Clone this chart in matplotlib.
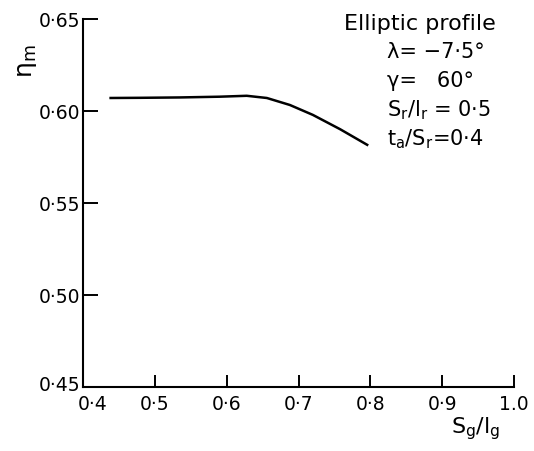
import matplotlib
matplotlib.use("Agg")
import matplotlib.pyplot as plt
import matplotlib.transforms as mtransforms

# data
sg_lg = [0.437, 0.480, 0.535, 0.590, 0.628, 0.656, 0.688, 0.720, 0.758, 0.797]
eta_m = [0.607, 0.6071, 0.6073, 0.6077, 0.6082, 0.607, 0.6032, 0.5978, 0.590, 0.5812]
x_ticks = [0.4, 0.5, 0.6, 0.7, 0.8, 0.9, 1.0]
x_tick_labels = ["0·4", "0·5", "0·6", "0·7", "0·8", "0·9", "1.0"]
y_ticks = [0.45, 0.50, 0.55, 0.60, 0.65]
y_tick_labels = ["0·45", "0·50", "0·55", "0·60", "0·65"]

fig = plt.figure(figsize=(5.34, 4.52), dpi=100)
ax = fig.add_axes([0.155, 0.142, 0.808, 0.814])

ax.plot(sg_lg, eta_m, color="black", lw=1.8, solid_capstyle="butt")

ax.set_xlim(0.4, 1.0)
ax.set_ylim(0.45, 0.65)
ax.spines["top"].set_visible(False)
ax.spines["right"].set_visible(False)
for s in ("left", "bottom"):
    ax.spines[s].set_linewidth(1.5)

ax.set_xticks(x_ticks)
ax.set_xticklabels(x_tick_labels, fontsize=13.5)
ax.set_yticks(y_ticks)
ax.set_yticklabels(y_tick_labels, fontsize=13.5)
ax.tick_params(axis="x", direction="in", length=9, width=1.4, pad=5)
ax.tick_params(axis="y", direction="in", length=11, width=1.4, pad=2)

# lift the lowest y label and shift the first x label so they clear each other
ylbl = ax.get_yticklabels()[0]
ylbl.set_transform(ylbl.get_transform() + mtransforms.ScaledTranslation(0, 3 / 72, fig.dpi_scale_trans))
xlbl = ax.get_xticklabels()[0]
xlbl.set_transform(xlbl.get_transform() + mtransforms.ScaledTranslation(7 / 72, 0, fig.dpi_scale_trans))

fig.text(0.05, 0.865, r"η$_\mathrm{m}$", rotation=90, fontsize=18, ha="center", va="center")
fig.text(0.89, 0.022, r"S$_\mathrm{g}$/l$_\mathrm{g}$", fontsize=16, ha="center", va="bottom")

fig.text(0.645, 0.948, "Elliptic profile", fontsize=16, ha="left", va="center")
info = ["λ= −7·5°",
        "γ=   60°",
        r"S$_\mathrm{r}$/l$_\mathrm{r}$ = 0·5",
        r"t$_\mathrm{a}$/S$_\mathrm{r}$=0·4"]
for i, t in enumerate(info):
    fig.text(0.725, 0.885 - i * 0.064, t, fontsize=15, ha="left", va="center")

fig.savefig("out.png", dpi=100)
